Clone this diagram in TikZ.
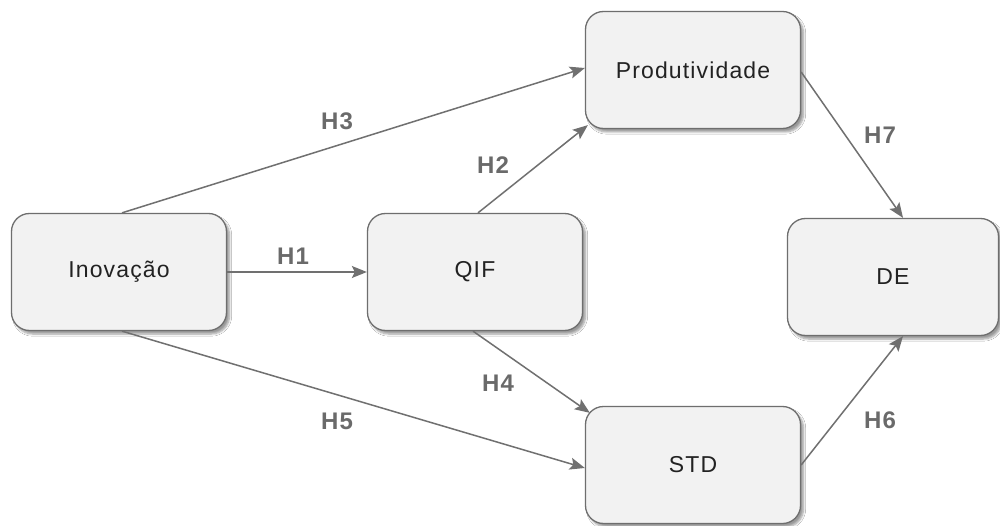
\documentclass[tikz,border=0pt]{standalone}
\usepackage{fontspec}
\setmainfont{Liberation Sans}[LetterSpace=5]
\usetikzlibrary{arrows.meta,shadows.blur}
\definecolor{boxfill}{HTML}{F2F2F2}
\definecolor{boxline}{HTML}{6E6E6E}
\definecolor{edgecol}{HTML}{707070}
\definecolor{labcol}{HTML}{6A6A6A}
\definecolor{txtcol}{HTML}{222222}
\begin{document}
\begin{tikzpicture}[x=1pt,y=-1pt,
  boxnode/.style={draw=boxline, line width=1.3pt, fill=boxfill, rounded corners=18pt,
    minimum width=215pt, minimum height=117pt, inner sep=0pt, text=txtcol,
    font=\fontsize{23}{27}\selectfont,
    blur shadow={shadow xshift=3pt, shadow yshift=-3.5pt, shadow blur steps=6, shadow opacity=40}},
  edge/.style={draw=edgecol, line width=1.5pt, -{Stealth[length=15pt,width=12pt,inset=3pt]}},
  hlab/.style={text=labcol, font=\bfseries\fontsize{24}{28}\selectfont, inner sep=0pt}]
\useasboundingbox (0,0) rectangle (1000,526);
\fill[white] (0,0) rectangle (1000,526);
\node[boxnode] (inov) at (119,272) {Inovação};
\node[boxnode] (qif) at (475,272) {QIF};
\node[boxnode] (prod) at (693,70) {Produtividade};
\node[boxnode, minimum width=211pt] (de) at (893,277) {DE};
\node[boxnode] (std) at (693,465) {STD};
% edges
\draw[edge] (inov.east) -- (qif.west);
\draw[edge] ([xshift=3pt]qif.north) -- ([xshift=3pt,yshift=4pt]prod.south west);
\draw[edge] ([xshift=3pt]inov.north) -- ([yshift=2pt]prod.west);
\draw[edge] ([xshift=-2pt]qif.south) -- ([xshift=5pt,yshift=-7pt]std.north west);
\draw[edge] ([xshift=3pt]inov.south) -- ([yshift=-3pt]std.west);
\draw[edge] (std.east) -- ([xshift=10pt]de.south);
\draw[edge] ([yshift=-2pt]prod.east) -- ([xshift=10pt]de.north);
% labels
\node[hlab] (h1) at (293,256) {H1};
\node[hlab] (h2) at (493,165) {H2};
\node[hlab] (h3) at (337,121) {H3};
\node[hlab] (h4) at (498,383) {H4};
\node[hlab] (h5) at (337,421) {H5};
\node[hlab] (h6) at (880,420) {H6};
\node[hlab] (h7) at (880,135) {H7};
\end{tikzpicture}
\end{document}
